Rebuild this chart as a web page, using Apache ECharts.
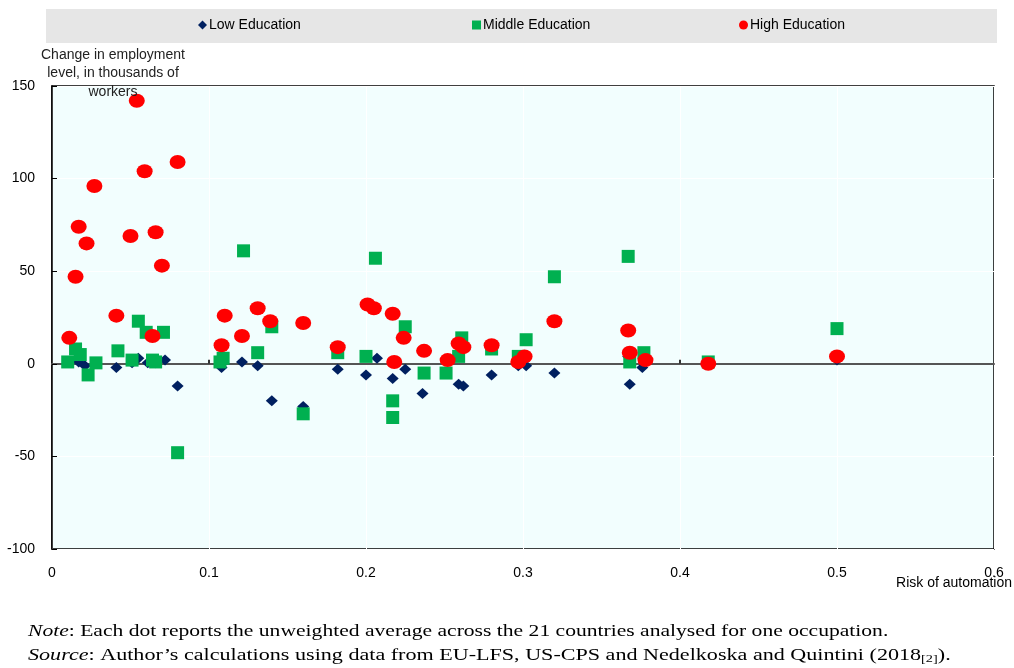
<!DOCTYPE html>
<html>
<head>
<meta charset="utf-8">
<script src="https://cdn.jsdelivr.net/npm/echarts@6/dist/echarts.min.js"></script>
<style>
  html, body { margin: 0; padding: 0; background: #fff; }
  #chart { width: 1014px; height: 668px; }
</style>
</head>
<body>
<div id="chart"></div>
<script>
// Risk of automation (x) vs change in employment, thousands (y)
const lowX = [0.011, 0.017, 0.021, 0.041, 0.051, 0.055, 0.061, 0.066, 0.072, 0.080, 0.108, 0.121, 0.131, 0.140, 0.160, 0.182, 0.200, 0.207, 0.217, 0.225, 0.236, 0.259, 0.262, 0.280, 0.297, 0.302, 0.320, 0.367, 0.368, 0.376, 0.418, 0.500]
const lowY = [1, 1, -1, -2, 0.5, 3, 0.5, 0.5, 2, -12, -2, 1, -1, -20, -23, -3, -6, 3, -8, -3, -16, -11, -12, -6, -1, -1, -5, 4, -11, -2, 0, 2]

const midX = [0.010, 0.015, 0.018, 0.023, 0.028, 0.042, 0.051, 0.055, 0.060, 0.064, 0.066, 0.071, 0.080, 0.107, 0.109, 0.122, 0.131, 0.140, 0.160, 0.182, 0.200, 0.206, 0.217, 0.217, 0.225, 0.237, 0.251, 0.259, 0.261, 0.280, 0.297, 0.302, 0.320, 0.367, 0.368, 0.377, 0.418, 0.500]
const midY = [1, 8, 5, -6, 0.5, 7, 2, 23, 17, 2, 1, 17, -48, 1, 3, 61, 6, 20, -27, 6, 4, 57, -20, -29, 20, -5, -5, 4, 14, 8, 4, 13, 47, 58, 1, 6, 1, 19]

const highX = [0.011, 0.015, 0.017, 0.022, 0.027, 0.041, 0.050, 0.054, 0.059, 0.064, 0.066, 0.070, 0.080, 0.108, 0.110, 0.121, 0.131, 0.139, 0.160, 0.182, 0.201, 0.205, 0.217, 0.218, 0.224, 0.237, 0.252, 0.259, 0.262, 0.280, 0.297, 0.301, 0.320, 0.367, 0.368, 0.378, 0.418, 0.500]
const highY = [14, 47, 74, 65, 96, 26, 69, 142, 104, 15, 71, 53, 109, 10, 26, 15, 30, 23, 22, 9, 32, 30, 27, 1, 14, 7, 2, 11, 9, 10, 1, 4, 23, 18, 6, 2, 0, 4]

const seriesNames = ['Low Education', 'Middle Education', 'High Education']
const yTitle = ['Change in employment', 'level, in thousands of', 'workers']

const pairs = (xs, ys) => xs.map((x, i) => [x, ys[i]])

const font = '"Liberation Sans", Arial, sans-serif'
const serif = '"Liberation Serif", "Times New Roman", serif'

const chart = echarts.init(document.getElementById('chart'))

const legendAt = (name, left, icon) => ({
  data: [{ name: name, icon: icon }],
  left: left,
  top: 18,
  itemWidth: 9,
  itemHeight: 9,
  itemGap: 2,
  padding: 0,
  textStyle: { fontFamily: font, fontSize: 14, color: '#000', padding: [0, 0, 0, -3] }
})

// the footnote font in the source is wider than Liberation Serif, so stretch it
const noteStyle = (text) => ({
  text: text,
  fontFamily: serif, fontSize: 17, fill: '#000', verticalAlign: 'middle',
  rich: {
    i: { fontFamily: serif, fontSize: 17, fontStyle: 'italic' },
    s: { fontFamily: serif, fontSize: 11, verticalAlign: 'bottom' }
  }
})

const option = {
  backgroundColor: '#fff',
  animation: false,
  graphic: [
    {
      type: 'rect', left: 46, top: 9, z: -1,
      shape: { width: 951, height: 34 },
      style: { fill: '#e6e6e6' }
    },
    ...yTitle.map((t, i) => ({
      type: 'text', z: 10,
      x: 113, y: 55 + i * 18.5,
      style: { text: t, fontFamily: font, fontSize: 14, fill: '#222', align: 'center', verticalAlign: 'middle' }
    })),
    {
      type: 'text', z: 10, x: 1012, y: 583,
      style: { text: 'Risk of automation', fontFamily: font, fontSize: 14, fill: '#000', align: 'right', verticalAlign: 'middle' }
    },
    {
      type: 'text', z: 10, x: 28, y: 632, scaleX: 1.27,
      style: noteStyle('{i|Note}: Each dot reports the unweighted average across the 21 countries analysed for one occupation.')
    },
    {
      type: 'text', z: 10, x: 28, y: 656, scaleX: 1.3,
      style: noteStyle('{i|Source}: Author\u2019s calculations using data from EU-LFS, US-CPS and Nedelkoska and Quintini (2018{s|[2]}).')
    }
  ],
  legend: [
    legendAt(seriesNames[0], 198, 'diamond'),
    legendAt(seriesNames[1], 472, 'rect'),
    legendAt(seriesNames[2], 739, 'circle')
  ],
  grid: {
    left: 52, right: 20, top: 86, bottom: 119,
    show: true,
    backgroundColor: '#f2fefe',
    borderColor: '#000',
    borderWidth: 1.5
  },
  xAxis: [
    {
      type: 'value', min: 0, max: 0.6, interval: 0.1,
      position: 'bottom',
      axisLine: { show: false, onZero: false },
      axisTick: { show: false },
      axisLabel: { fontFamily: font, fontSize: 14, color: '#000', margin: 17 },
      splitLine: { show: true, lineStyle: { color: '#ffffff', width: 1 } }
    },
    {
      type: 'value', min: 0, max: 0.6, interval: 0.1,
      position: 'top',
      axisLine: { show: true, onZero: true, lineStyle: { color: '#555', width: 2 } },
      axisTick: { show: true, customValues: [0.1, 0.4], length: 4, lineStyle: { color: '#333', width: 2 } },
      axisLabel: { show: false },
      splitLine: { show: false }
    }
  ],
  yAxis: {
    type: 'value', min: -100, max: 150, interval: 50,
    axisLine: { show: true, lineStyle: { color: '#000', width: 1.5 } },
    axisTick: { show: true, inside: true, length: 5, lineStyle: { color: '#000' } },
    axisLabel: { fontFamily: font, fontSize: 14, color: '#000', margin: 17 },
    splitLine: { show: true, lineStyle: { color: '#ffffff', width: 1 } }
  },
  series: [
    {
      name: seriesNames[0], type: 'scatter', symbol: 'diamond', symbolSize: [12, 11],
      itemStyle: { color: '#002060', opacity: 1 },
      data: pairs(lowX, lowY)
    },
    {
      name: seriesNames[1], type: 'scatter', symbol: 'rect', symbolSize: 13,
      itemStyle: { color: '#00b050', opacity: 1 },
      data: pairs(midX, midY)
    },
    {
      name: seriesNames[2], type: 'scatter', symbol: 'circle', symbolSize: [16, 14],
      itemStyle: { color: '#ff0000', opacity: 1 },
      data: pairs(highX, highY)
    }
  ]
}

chart.setOption(option)
</script>
</body>
</html>
